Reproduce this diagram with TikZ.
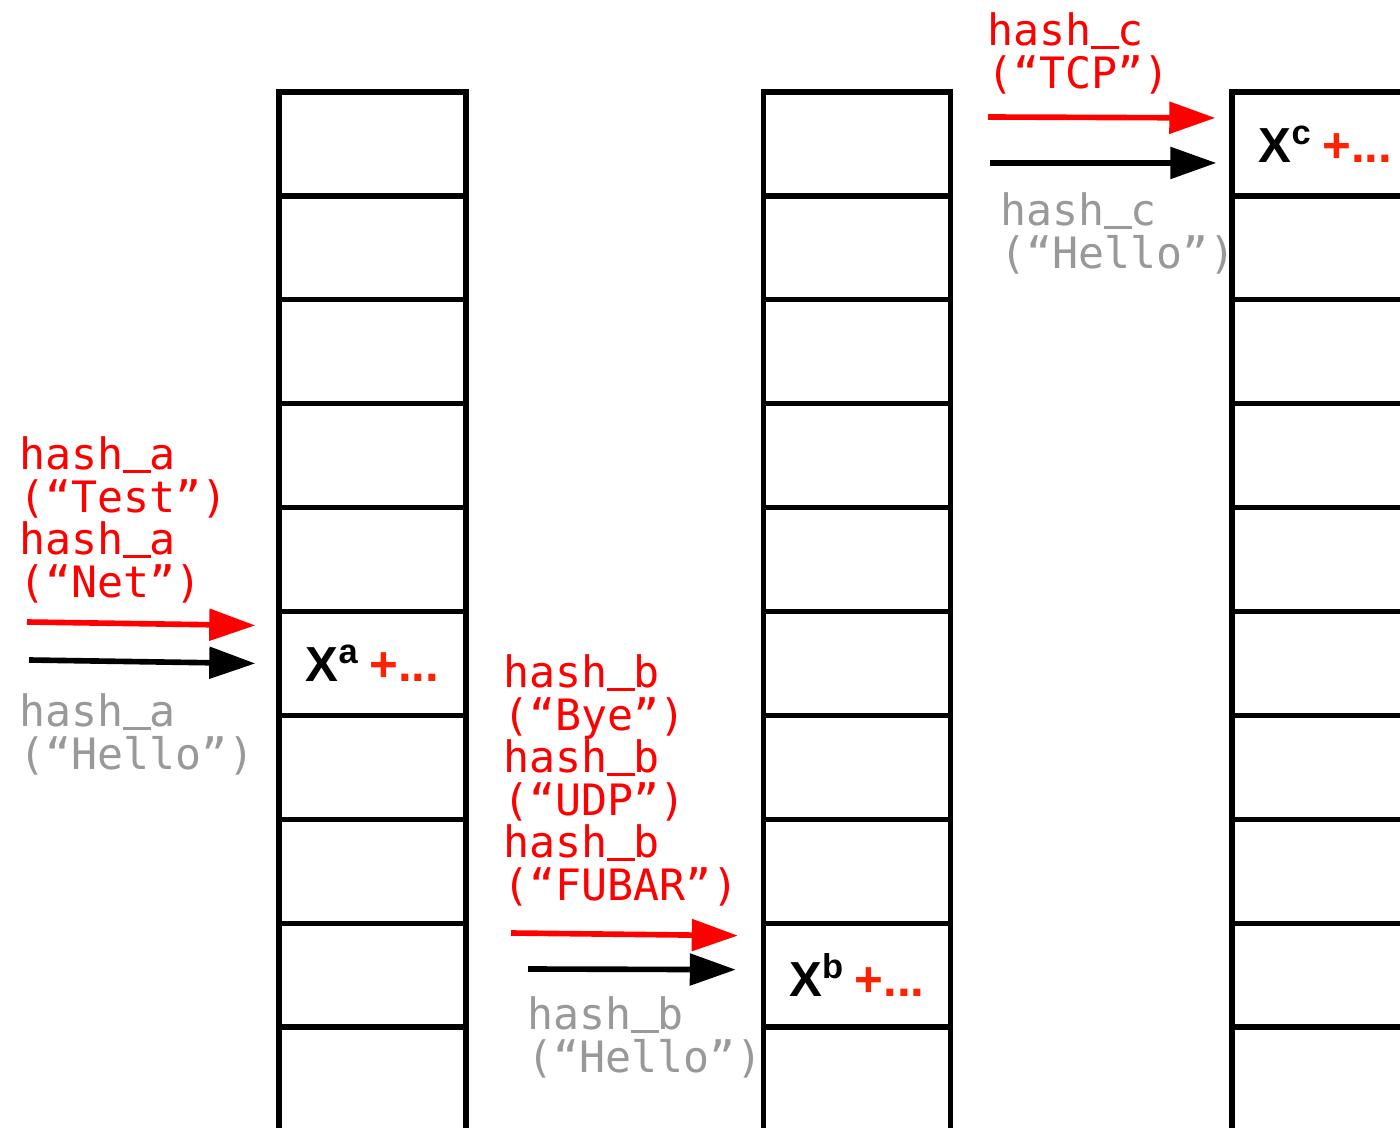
\documentclass[tikz,border=0pt]{standalone}
\usepackage{fontspec}
\setmainfont{Liberation Sans}
\newfontfamily\codefont{DejaVu Sans Mono}
\usetikzlibrary{arrows.meta}

\definecolor{hitred}{RGB}{255,0,0}
\definecolor{sumred}{RGB}{255,34,0}
\definecolor{oldgray}{RGB}{153,153,153}
\newcommand{\us}{\hbox to 0.602em{\hss\vrule height 0pt depth 0.07em width 0.64em\hss}}
\newcommand{\entry}[1]{\textbf{X\textsuperscript{#1}}\hspace{0.2em}\textcolor{sumred}{\textbf{+...}}}
\newcommand{\keyfont}{\codefont\fontsize{12.3}{12.1}\selectfont\lineskiplimit=-20pt\relax}

\tikzset{
  cell/.style={draw, line width=1.5pt, minimum width=1.87cm, minimum height=1.039cm, inner sep=0pt},
  key/.style={anchor=north west, align=left, inner sep=0pt, font=\keyfont},
  newkey/.style={key, text=hitred},
  oldkey/.style={key, text=oldgray},
  hit/.style={-{Triangle[length=0.46cm,width=0.31cm]}, line width=1.6pt},
  sum/.style={font=\fontsize{14}{15}\selectfont},
}

\begin{document}
\begin{tikzpicture}[x={(0.01cm,0cm)}, y={(0cm,-0.01cm)}]
  \useasboundingbox (0,0) rectangle (1400,1128);
  \clip (0,0) rectangle (1400,1128);

  % Tables
  \foreach \i in {1,...,11} {
    \node[cell] (a\i) at (372.5, 40.05+103.9*\i) {};
    \node[cell] (b\i) at (857, 40.05+103.9*\i) {};
    \node[cell] (c\i) at (1325.5, 40.05+103.9*\i) {};
  }
  \node[sum] (sa) at (a6) {\entry{a}};
  \node[sum] (sb) at (b9) {\entry{b}};
  \node[sum] (sc) at (c1) {\entry{c}};

  % Keys
  \node[newkey] (ka) at (19,436) {hash\us a\\(“Test”)\\hash\us a\\(“Net”)};
  \node[oldkey] (ha) at (19,693) {hash\us a\\(“Hello”)};
  \node[newkey] (kb) at (503,654) {hash\us b\\(“Bye”)\\hash\us b\\(“UDP”)\\hash\us b\\(“FUBAR”)};
  \node[oldkey] (hb) at (527,996) {hash\us b\\(“Hello”)};
  \node[newkey] (kc) at (987,12) {hash\us c\\(“TCP”)};
  \node[oldkey] (hc) at (1000,192) {hash\us c\\(“Hello”)};

  % Edges
  \coordinate (na) at (27,622);
  \coordinate (oa) at (29,660);
  \coordinate (nb) at (511,933);
  \coordinate (ob) at (528,969);
  \coordinate (nc) at (988,117);
  \coordinate (oc) at (990,163);
  \draw[hit, hitred] (na) -- ([xshift=-0.21cm,yshift=0.38cm]a6.west);
  \draw[hit] (oa) -- ([xshift=-0.21cm]a6.west);
  \draw[hit, hitred] (nb) -- ([xshift=-0.23cm,yshift=0.395cm]b9.west);
  \draw[hit] (ob) -- ([xshift=-0.25cm,yshift=0.055cm]b9.west);
  \draw[hit, hitred] (nc) -- ([xshift=-0.14cm,yshift=0.26cm]c1.west);
  \draw[hit] (oc) -- ([xshift=-0.13cm,yshift=-0.19cm]c1.west);
\end{tikzpicture}
\end{document}
